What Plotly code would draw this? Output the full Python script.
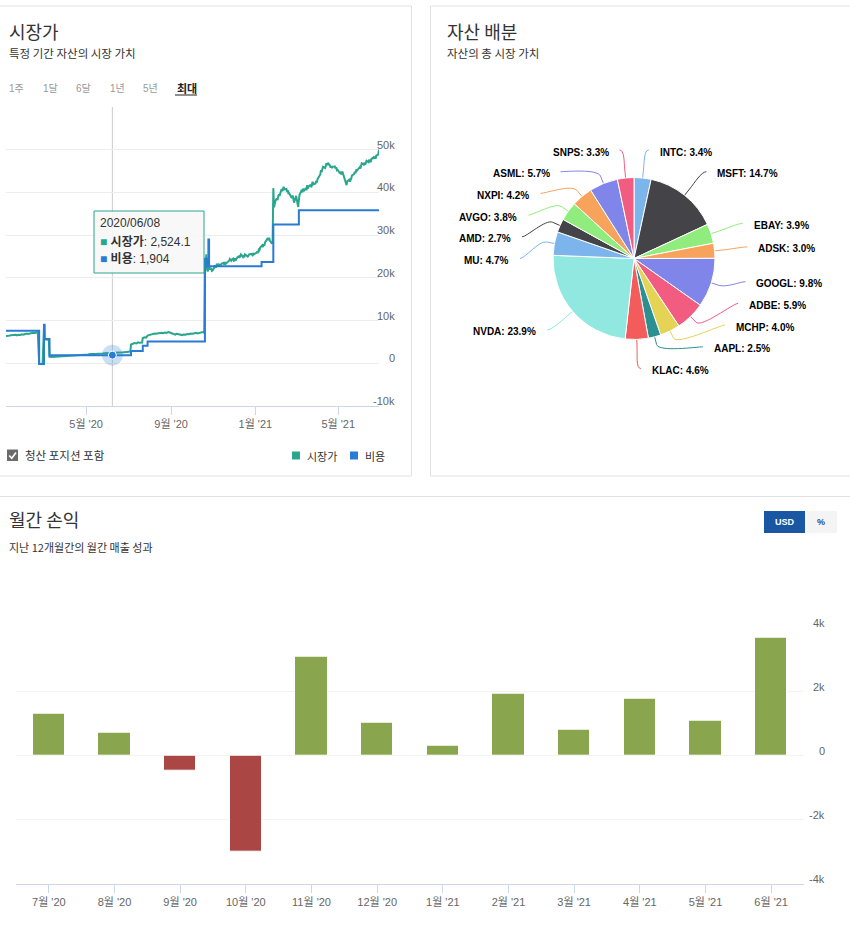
import math
import plotly.graph_objects as go

W, H = 850, 927

# ---------------- data ----------------
mv_dates = [
    "2020-01-06", "2020-01-08", "2020-01-10", "2020-01-13", "2020-01-15", "2020-01-17",
    "2020-01-20", "2020-01-22", "2020-01-24", "2020-01-27", "2020-01-29", "2020-01-31",
    "2020-02-03", "2020-02-05", "2020-02-07", "2020-02-10", "2020-02-12", "2020-02-14",
    "2020-02-17", "2020-02-19", "2020-02-21",
    "2020-02-23", "2020-02-28", "2020-03-01", "2020-03-02", "2020-03-08", "2020-03-09",
    "2020-03-12", "2020-03-16", "2020-03-19", "2020-03-23", "2020-03-26", "2020-03-30",
    "2020-04-02", "2020-04-06", "2020-04-09", "2020-04-13", "2020-04-16", "2020-04-20",
    "2020-04-23", "2020-04-27", "2020-04-30",
    "2020-05-04", "2020-05-07", "2020-05-11", "2020-05-14", "2020-05-18", "2020-05-21",
    "2020-05-25", "2020-05-28",
    "2020-06-01", "2020-06-04", "2020-06-08", "2020-06-11", "2020-06-15", "2020-06-18",
    "2020-06-22", "2020-06-25", "2020-06-29",
    "2020-07-02", "2020-07-04", "2020-07-05", "2020-07-08", "2020-07-10", "2020-07-13",
    "2020-07-15", "2020-07-17", "2020-07-21", "2020-07-22", "2020-07-25", "2020-07-27",
    "2020-07-29", "2020-07-31",
    "2020-08-03", "2020-08-05", "2020-08-08", "2020-08-10", "2020-08-13", "2020-08-15",
    "2020-08-18", "2020-08-20", "2020-08-23", "2020-08-25", "2020-08-28", "2020-08-31",
    "2020-09-02", "2020-09-04", "2020-09-07", "2020-09-09", "2020-09-12", "2020-09-14",
    "2020-09-17", "2020-09-19", "2020-09-22", "2020-09-24", "2020-09-27", "2020-09-29",
    "2020-10-02", "2020-10-05", "2020-10-07", "2020-10-09", "2020-10-12", "2020-10-14",
    "2020-10-17", "2020-10-19", "2020-10-20", "2020-10-21", "2020-10-22", "2020-10-23",
    "2020-10-24", "2020-10-26", "2020-10-27", "2020-10-28", "2020-10-29", "2020-10-30",
    "2020-10-31",
    "2020-11-02", "2020-11-03", "2020-11-04", "2020-11-05", "2020-11-06", "2020-11-08",
    "2020-11-09", "2020-11-10", "2020-11-11", "2020-11-12", "2020-11-13", "2020-11-16",
    "2020-11-17", "2020-11-18", "2020-11-19", "2020-11-20", "2020-11-23", "2020-11-24",
    "2020-11-25", "2020-11-27", "2020-11-28", "2020-11-30",
    "2020-12-01", "2020-12-02", "2020-12-03", "2020-12-04", "2020-12-06", "2020-12-08",
    "2020-12-09", "2020-12-10", "2020-12-11", "2020-12-14", "2020-12-15", "2020-12-16",
    "2020-12-17", "2020-12-18", "2020-12-21", "2020-12-22", "2020-12-23", "2020-12-26",
    "2020-12-28", "2020-12-29", "2020-12-30",
    "2021-01-03", "2021-01-04", "2021-01-05", "2021-01-06", "2021-01-07", "2021-01-08",
    "2021-01-11", "2021-01-12", "2021-01-13", "2021-01-14", "2021-01-15", "2021-01-18",
    "2021-01-19", "2021-01-20", "2021-01-21", "2021-01-22", "2021-01-25", "2021-01-26",
    "2021-01-27", "2021-01-28", "2021-01-29", "2021-01-30",
    "2021-02-01", "2021-02-02", "2021-02-03", "2021-02-04", "2021-02-05", "2021-02-07",
    "2021-02-08", "2021-02-09", "2021-02-10", "2021-02-11", "2021-02-12", "2021-02-15",
    "2021-02-16", "2021-02-17", "2021-02-18", "2021-02-19", "2021-02-22", "2021-02-23",
    "2021-02-24", "2021-02-25", "2021-02-26",
    "2021-03-01", "2021-03-02", "2021-03-03", "2021-03-04", "2021-03-05", "2021-03-06",
    "2021-03-08", "2021-03-09", "2021-03-10", "2021-03-11", "2021-03-12", "2021-03-15",
    "2021-03-16", "2021-03-17", "2021-03-18", "2021-03-19", "2021-03-22", "2021-03-23",
    "2021-03-24", "2021-03-25", "2021-03-26", "2021-03-29", "2021-03-30", "2021-03-31",
    "2021-04-01", "2021-04-02", "2021-04-05", "2021-04-06", "2021-04-07", "2021-04-08",
    "2021-04-09", "2021-04-12", "2021-04-13", "2021-04-14", "2021-04-15", "2021-04-16",
    "2021-04-19", "2021-04-20", "2021-04-21", "2021-04-22", "2021-04-23", "2021-04-26",
    "2021-04-27", "2021-04-28", "2021-04-29", "2021-04-30",
    "2021-05-03", "2021-05-04", "2021-05-05", "2021-05-06", "2021-05-07", "2021-05-10",
    "2021-05-11", "2021-05-12", "2021-05-13", "2021-05-14", "2021-05-17", "2021-05-18",
    "2021-05-19", "2021-05-20", "2021-05-21", "2021-05-24", "2021-05-25", "2021-05-26",
    "2021-05-27", "2021-05-28",
    "2021-06-01", "2021-06-02", "2021-06-03", "2021-06-04", "2021-06-07", "2021-06-08",
    "2021-06-09", "2021-06-10", "2021-06-11", "2021-06-14", "2021-06-15", "2021-06-16",
    "2021-06-17", "2021-06-18", "2021-06-21", "2021-06-22", "2021-06-23", "2021-06-24",
    "2021-06-25", "2021-06-28", "2021-06-29",
]
mv_values = [
    6400, 6500, 6450, 6550, 6500, 6600,
    6650, 6550, 6700, 6650, 6800, 6700,
    6850, 6950, 6850, 7000, 7050, 7150,
    7100, 7250, 7300,
    -100, -200, 8600, 5600, 5500, 1500,
    1450, 1500, 1400, 1450, 1550, 1500,
    1650, 1600, 1750, 1800, 1750, 1900,
    1850, 1950, 2000,
    2050, 2150, 2100, 2200, 2250, 2200,
    2300, 2350,
    2400, 2450, 2524.1, 2400, 2450, 2550,
    2500, 2600, 2650,
    2700, 2750, 4400, 4600, 4750, 4650,
    4900, 4800, 4850, 5900, 6100, 6000,
    6500, 6600,
    6800, 6750, 6950, 6900, 7050, 7000,
    7150, 7050, 7200, 7100, 7300, 7150,
    7000, 6850, 6700, 6900, 6850, 6700,
    6600, 6750, 6700, 6850, 6800, 6950,
    6900, 7050, 7150, 7000, 7100, 7250,
    7300, 7100, 24000, 22500, 25500, 22000,
    21500, 22800, 22300, 21900, 22300, 21600,
    21700,
    22200, 22900, 22600, 22400, 23100, 23000,
    23300, 22700, 23200, 22900, 23300, 23500,
    23100, 23700, 23300, 23400, 23900, 24000,
    24400, 24000, 24300, 24500,
    24000, 24100, 24600, 24300, 24800, 25000,
    24700, 25300, 25500, 24900, 25300, 24800,
    25500, 25400, 25000, 25200, 25500, 25600,
    25300, 25800, 25500,
    25900, 26200, 25800, 26600, 26500, 27100,
    27600, 27200, 27900, 27500, 28300, 29000,
    29300, 28800, 29400, 28700, 28000, 28400,
    41000, 36500, 37800, 38000,
    38600, 38200, 39000, 39600, 39200, 40200,
    40800, 40300, 41000, 41300, 40700, 40800,
    40100, 40500, 39600, 39800, 38900, 38700,
    39300, 37900, 37600,
    39200, 38300, 37500, 36600, 38200, 39500,
    40100, 40600, 40000, 40900, 40300, 41000,
    40500, 41700, 40900, 41300, 41800, 41200,
    42000, 42500, 41900, 42100, 42700, 42300,
    43100, 43400, 44200, 45200, 44800, 45500,
    46000, 45700, 46300, 46800, 46400, 46900,
    46300, 45800, 46200, 45700, 46000, 46100,
    45600, 45900, 45200, 45300,
    44600, 44500, 44900, 44200, 44900, 43500,
    42800, 42200, 41700, 42600, 43000, 42500,
    42800, 43400, 44000, 44300, 44800, 44500,
    45200, 45100,
    45900, 45600, 46200, 46800, 46500, 47000,
    46500, 47300, 47400, 47100, 47700, 47300,
    47100, 47800, 48200, 47900, 48400, 47900,
    48600, 48900, 50000,
]
cost_dates = [
    "2020-01-06", "2020-02-23", "2020-03-01", "2020-03-02", "2020-03-09", "2020-07-05",
    "2020-07-22", "2020-07-29", "2020-10-20", "2020-10-23", "2020-10-25", "2020-10-26",
    "2021-01-10", "2021-01-27", "2021-03-05", "2021-06-29",
]
cost_values = [
    7600, -150, 9000, 5700, 1904, 2900,
    4100, 5100, 24500, 22700, 29000, 22700,
    23700, 32500, 35800, 35800,
]
cursor_date = "2020-06-08"

line_tickvals = ["2020-05-01", "2020-09-01", "2021-01-01", "2021-05-01"]
line_ticktext = ["5월 '20", "9월 '20", "1월 '21", "5월 '21"]
line_yvals = [-10000, 0, 10000, 20000, 30000, 40000, 50000]
line_ylabels = ["-10k", "0", "10k", "20k", "30k", "40k", "50k"]

pie_labels = ["INTC", "MSFT", "EBAY", "ADSK", "GOOGL", "ADBE", "MCHP", "AAPL",
              "KLAC", "NVDA", "MU", "AMD", "AVGO", "NXPI", "ASML", "SNPS"]
pie_values = [3.4, 14.7, 3.9, 3.0, 9.8, 5.9, 4.0, 2.5,
              4.6, 23.9, 4.7, 2.7, 3.8, 4.2, 5.7, 3.3]
pie_colors = ["#7cb5ec", "#434348", "#90ed7d", "#f7a35c", "#8085e9", "#f15c80",
              "#e4d354", "#2b908f", "#f45b5b", "#91e8e1", "#7cb5ec", "#434348",
              "#90ed7d", "#f7a35c", "#8085e9", "#f15c80"]

months = ["7월 '20", "8월 '20", "9월 '20", "10월 '20", "11월 '20", "12월 '20",
          "1월 '21", "2월 '21", "3월 '21", "4월 '21", "5월 '21", "6월 '21"]
pnl = [1330, 710, -450, -2990, 3080, 1040, 320, 1930, 820, 1780, 1100, 3700]
bar_yvals = [-4000, -2000, 0, 2000, 4000]
bar_ylabels = ["-4k", "-2k", "0", "2k", "4k"]

range_buttons = ["1주", "1달", "6달", "1년", "5년", "최대"]

assert len(mv_dates) == len(mv_values)
assert len(cost_dates) == len(cost_values)

# ---------------- style ----------------
GREEN = "#2aa68c"
BLUE = "#2a7bd4"
POS = "#89A54E"
NEG = "#AA4643"
KR = "Noto Sans CJK KR, sans-serif"
LAT = "Liberation Sans, Arial, Noto Sans CJK KR, sans-serif"
BORDER = "#e2e2e2"


def X(px):
    return px / W


def Y(py):
    return 1 - py / H


annotations = []
shapes = []


def txt(s, px, py, size, color="#333", anchor="left", family=KR):
    annotations.append(dict(text=s, x=X(px), y=Y(py), xref="paper", yref="paper",
                            xanchor=anchor, yanchor="middle", showarrow=False,
                            font=dict(size=size, color=color, family=family)))


def rect(x0, y0, x1, y1, fill=None, line=None, lw=1, layer="above"):
    shapes.append(dict(type="rect", xref="paper", yref="paper",
                       x0=X(x0), x1=X(x1), y0=Y(y1), y1=Y(y0),
                       fillcolor=fill if fill else "rgba(0,0,0,0)",
                       line=dict(color=line if line else "rgba(0,0,0,0)", width=lw if line else 0),
                       layer=layer))


fig = go.Figure()

# ---------------- panels ----------------
rect(-2, 6, 411.5, 476, line=BORDER, layer="below")
rect(430.5, 6, 852, 476, line=BORDER, layer="below")
rect(-2, 496.5, 852, 940, line=BORDER, layer="below")

# ---------------- market value chart ----------------
fig.add_trace(go.Scatter(x=mv_dates, y=mv_values, mode="lines",
                         line=dict(color=GREEN, width=2), hoverinfo="skip",
                         xaxis="x", yaxis="y", showlegend=False))
fig.add_trace(go.Scatter(x=cost_dates, y=cost_values, mode="lines",
                         line=dict(color=BLUE, width=2, shape="hv"), hoverinfo="skip",
                         xaxis="x", yaxis="y", showlegend=False))

ci = mv_dates.index(cursor_date)
cursor_mv = mv_values[ci]
cursor_cost = [v for d, v in zip(cost_dates, cost_values) if d <= cursor_date][-1]

shapes.append(dict(type="line", xref="x", yref="paper", x0=cursor_date, x1=cursor_date,
                   y0=Y(406), y1=Y(107), line=dict(color="#cccccc", width=1), layer="below"))
fig.add_trace(go.Scatter(x=[cursor_date], y=[cursor_cost], mode="markers",
                         marker=dict(size=21, color="rgba(42,123,212,0.25)"),
                         hoverinfo="skip", xaxis="x", yaxis="y", showlegend=False))
fig.add_trace(go.Scatter(x=[cursor_date], y=[cursor_cost], mode="markers",
                         marker=dict(size=8, color=BLUE, line=dict(color="white", width=1)),
                         hoverinfo="skip", xaxis="x", yaxis="y", showlegend=False))

for v, lab in zip(line_yvals, line_ylabels):
    annotations.append(dict(text=lab, x=X(397), xref="paper", y=v, yref="y", yshift=5,
                            xanchor="right", yanchor="middle", showarrow=False,
                            font=dict(size=11, color="#666", family=LAT)))

# tooltip
rect(94, 211, 204, 273, fill="rgba(247,247,247,0.88)", line=GREEN, lw=1)
txt(cursor_date.replace("-", "/"), 98, 223, 12, "#333", family=LAT)
txt(f"<span style='color:{GREEN}'>■</span> <b>시장가</b>: {cursor_mv:,.1f}", 98, 241, 12, "#333", family=LAT)
txt(f"<span style='color:{BLUE}'>■</span> <b>비용</b>: {cursor_cost:,}", 98, 259, 12, "#333", family=LAT)

# headers
txt("시장가", 7, 31, 18, "#333")
txt("특정 기간 자산의 시장 가치", 7, 53, 11.5, "#333")
for i, b in enumerate(range_buttons):
    bx = 7 + i * 33.6
    if b == "최대":
        txt(f"<b>{b}</b>", bx, 88, 11, "#222")
        shapes.append(dict(type="line", xref="paper", yref="paper", x0=X(bx), x1=X(bx + 22),
                           y0=Y(95), y1=Y(95), line=dict(color="#222", width=1)))
    else:
        txt(b, bx, 88, 10, "#999", family=LAT)

# checkbox + legend
rect(7, 449.5, 18, 461, fill="#6b6b6b")
shapes.append(dict(type="path", xref="paper", yref="paper",
                   path=f"M {X(9.2)} {Y(455.5)} L {X(11.8)} {Y(458.3)} L {X(16)} {Y(452.5)}",
                   line=dict(color="white", width=1.6)))
txt("청산 포지션 포함", 23, 455, 11.5, "#333")
rect(292, 451.5, 300, 459.5, fill=GREEN)
txt("시장가", 305, 455.5, 11, "#333")
rect(350, 451.5, 358, 459.5, fill=BLUE)
txt("비용", 363, 455.5, 11, "#333")

# ---------------- pie ----------------
cx, cy, r = 634, 258.5, 81
fig.add_trace(go.Pie(labels=pie_labels, values=pie_values, sort=False, direction="clockwise",
                     rotation=0, marker=dict(colors=pie_colors, line=dict(color="white", width=1)),
                     textinfo="none", hoverinfo="skip", showlegend=False,
                     domain=dict(x=[X(cx - r), X(cx + r)], y=[Y(cy + r), Y(cy - r)])))

txt("자산 배분", 445, 31, 18, "#333")
txt("자산의 총 시장 가치", 445, 53, 11.5, "#333")

R = r + 30
tot = sum(pie_values)
items = []
cum = 0.0
for lab, v, col in zip(pie_labels, pie_values, pie_colors):
    a = (cum + v / 2) / tot * 2 * math.pi
    cum += v
    items.append(dict(lab=lab, v=v, col=col, a=a, ny=cy - R * math.cos(a), right=math.sin(a) >= 0))
sp = 21.7
ymin, ymax = cy - R + 3.5, cy + R
for side in (True, False):
    grp = sorted([it for it in items if it["right"] == side], key=lambda it: it["ny"])
    ys = [it["ny"] for it in grp]
    ys[0] = max(ys[0], ymin)
    for i in range(1, len(ys)):
        ys[i] = max(ys[i], ys[i - 1] + sp)
    ys[-1] = min(ys[-1], ymax)
    for i in range(len(ys) - 2, -1, -1):
        ys[i] = min(ys[i], ys[i + 1] - sp)
    for it, yv in zip(grp, ys):
        it["y"] = yv

for it in items:
    s = 1 if it["right"] else -1
    yy = it["ny"] if abs(it["y"] - it["ny"]) < 6 else it["y"]
    dy = yy - cy
    dx = math.sqrt(max(R * R - dy * dy, 0))
    xc = cx + s * (dx + 3)
    yc = it["y"] - 1
    a = it["a"]
    tx, ty = cx + r * math.sin(a), cy - r * math.cos(a)
    bx, by = cx + (r + 8) * math.sin(a), cy - (r + 8) * math.cos(a)
    path = (f"M {X(xc)} {Y(yc)} C {X(xc - s * 5)} {Y(yc)}, {X(2 * bx - tx)} {Y(2 * by - ty)}, "
            f"{X(bx)} {Y(by)} L {X(tx)} {Y(ty)}")
    shapes.append(dict(type="path", xref="paper", yref="paper", path=path,
                       line=dict(color=it["col"], width=1), layer="below"))
    txt(f"<b>{it['lab']}: {it['v']:.1f}%</b>", xc + s * 9, it["y"] + 1, 10, "#000",
        anchor="left" if s > 0 else "right", family=LAT)

# ---------------- monthly P/L ----------------
fig.add_trace(go.Bar(x=months, y=pnl, width=0.49,
                     marker=dict(color=[POS if v >= 0 else NEG for v in pnl],
                                 line=dict(color="white", width=1)),
                     hoverinfo="skip", xaxis="x2", yaxis="y2", showlegend=False))
for v, lab in zip(bar_yvals, bar_ylabels):
    annotations.append(dict(text=lab, x=X(827), xref="paper", y=v, yref="y2", yshift=5,
                            xanchor="right", yanchor="middle", showarrow=False,
                            font=dict(size=11, color="#666", family=LAT)))

txt("월간 손익", 7, 519, 18, "#333")
txt("지난 12개월간의 월간 매출 성과", 7, 547, 11, "#333")
rect(764, 511, 805, 533, fill="#1a57a3")
txt("<b>USD</b>", 784.5, 522, 9, "white", anchor="center", family=LAT)
rect(805, 511, 837, 533, fill="#f4f4f4")
txt("<b>%</b>", 821, 522, 9, "#1a4f94", anchor="center", family=LAT)

fig.update_layout(
    width=W, height=H, margin=dict(l=0, r=0, t=0, b=0),
    paper_bgcolor="white", plot_bgcolor="white",
    showlegend=False, bargap=0,
    xaxis=dict(domain=[X(6), X(379)], type="date", range=["2020-01-06", "2021-06-29"],
               tickvals=line_tickvals, ticktext=line_ticktext, ticks="outside", ticklen=8,
               tickcolor="#ccd6eb", showline=True, linecolor="#ccd6eb", showgrid=False,
               zeroline=False, tickfont=dict(size=11, color="#666", family=LAT),
               anchor="y", fixedrange=True),
    yaxis=dict(domain=[Y(406), Y(107)], range=[-10000, 60000], tickvals=line_yvals,
               showticklabels=False, showgrid=True, gridcolor="#ededed", zeroline=False,
               side="right", anchor="x", fixedrange=True),
    xaxis2=dict(domain=[X(16), X(804)], type="category", ticks="outside", ticklen=8,
                tickcolor="#ccd6eb", showline=True, linecolor="#ccd6eb", showgrid=False,
                tickfont=dict(size=11, color="#666", family=LAT), anchor="y2", fixedrange=True),
    yaxis2=dict(domain=[Y(884), Y(627.7)], range=[-4000, 4000], tickvals=bar_yvals,
                showticklabels=False, showgrid=True, gridcolor="#f3f3f3", zeroline=False,
                anchor="x2", fixedrange=True),
    annotations=annotations, shapes=shapes,
)

fig.write_html("out.html", config={"displayModeBar": False})
